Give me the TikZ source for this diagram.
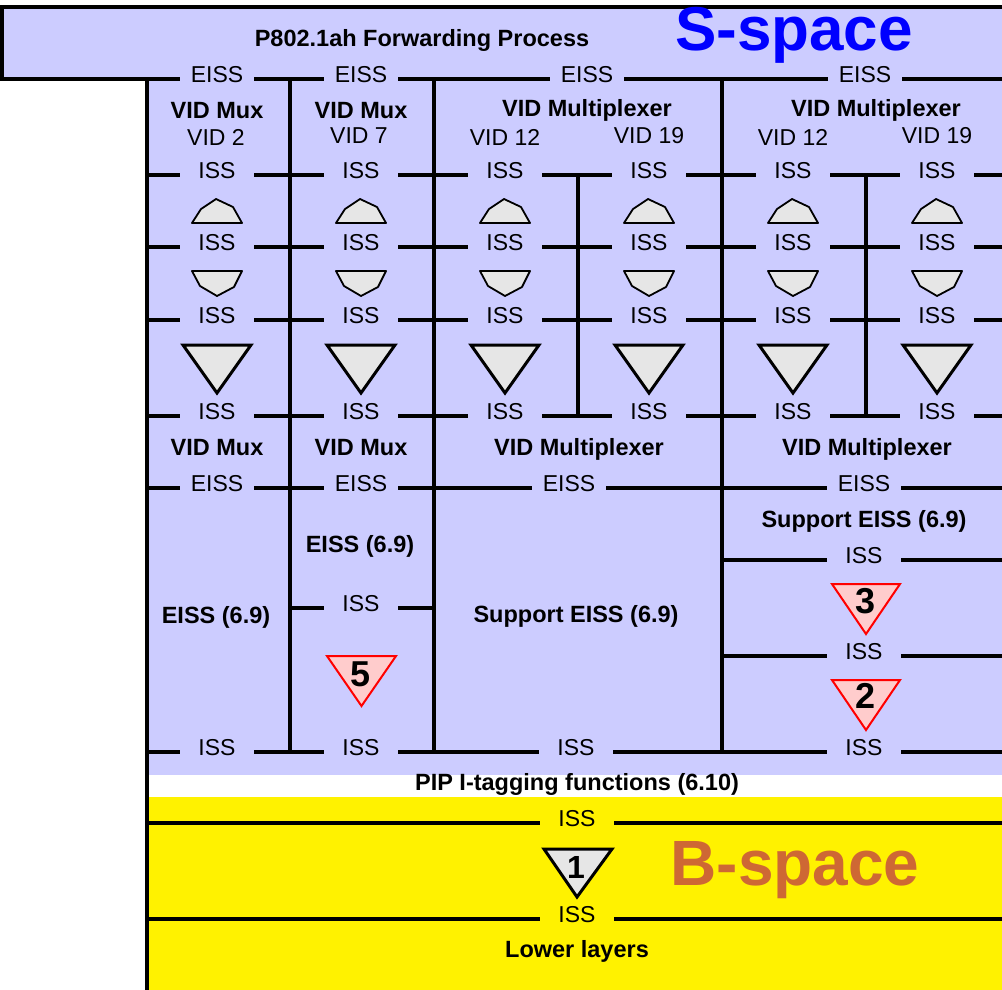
\documentclass[tikz,border=0pt]{standalone}
\usepackage{fontspec}
\setmainfont{Liberation Sans}
\definecolor{lav}{RGB}{204,204,255}
\definecolor{shade}{RGB}{230,230,230}
\definecolor{pinkish}{RGB}{255,204,204}
\definecolor{bbrown}{RGB}{206,104,52}
\begin{document}
\begin{tikzpicture}[x=1pt,y=-1pt,line width=3.2pt,
    port/.style={fill=lav,minimum width=74pt,inner xsep=0pt,inner ysep=1.5pt,font=\fontsize{23}{26}\selectfont},
    txt/.style={anchor=base,font=\fontsize{23}{26}\selectfont},
    head/.style={anchor=base,font=\fontsize{23.5}{26}\selectfont\bfseries},
    dome/.style={fill=shade,draw,line width=1.8pt,line join=round},
    tri/.style={fill=shade,draw,line width=3pt},
    redtri/.style={fill=pinkish,draw=red,line width=2pt},
    num/.style={font=\fontsize{36}{40}\selectfont\bfseries}]
    \useasboundingbox (0,0) rectangle (1002,990);
    \fill[lav] (2,7) rectangle (1002,79);
    \fill[lav] (147,79) rectangle (1002,775);
    \fill[yellow] (147,797) rectangle (1002,990);
    \draw (1002,7) -- (2,7) -- (2,79) -- (1002,79);
    \draw (147,79) -- (147,990);
    \foreach \x in {290,434,722} \draw (\x,79) -- (\x,752);
    \foreach \x in {578,866} \draw (\x,175) -- (\x,416);
    \foreach \y in {175,247,320,416,488,752,823,919} \draw (147,\y) -- (1002,\y);
    \draw (290,608) -- (434,608);
    \foreach \y in {560,656} \draw (722,\y) -- (1002,\y);
    \foreach \x in {217,361,505,649,793,937} {
        \draw[dome] (\x-25,223) -- (\x-16,209) -- (\x-1,199) -- (\x+16,207) -- (\x+25,223) -- cycle;
        \draw[dome] (\x-25,271) -- (\x-17,286) -- (\x,296) -- (\x+17,287) -- (\x+25,271) -- cycle;
        \draw[tri] (\x-34,345) -- (\x+34,345) -- (\x,393) -- cycle;
    }
    \draw[redtri] (327,656) -- (396,656) -- (361.5,706) -- cycle;
    \draw[redtri] (832,584) -- (900,584) -- (866,634) -- cycle;
    \draw[redtri] (832,680) -- (900,680) -- (866,730) -- cycle;
    \draw[tri] (544,849) -- (612,849) -- (577,897) -- cycle;
    \node[num] (n5) at (361,674) {5};
    \node[num] (n3) at (866,601) {3};
    \node[num] (n2) at (866,696) {2};
    \node[font=\fontsize{32}{34}\selectfont\bfseries] (n1) at (576,867) {1};
    \foreach \x [count=\i] in {217,361,587,865} \node[port] (eissT\i) at (\x,75) {EISS};
    \foreach \y [count=\j] in {171,243,316,412}
        \foreach \x [count=\i] in {217,361,505,649,793,937} \node[port] (iss\j\i) at (\x,\y) {ISS};
    \foreach \x [count=\i] in {217,361,569,864} \node[port] (eissB\i) at (\x,484) {EISS};
    \foreach \x [count=\i] in {217,361,576,864} \node[port] (issB\i) at (\x,748) {ISS};
    \node[port] (issM) at (361,604) {ISS};
    \node[port] (issR1) at (864,556) {ISS};
    \node[port] (issR2) at (864,652) {ISS};
    \node[port,fill=yellow] (issY1) at (577,819) {ISS};
    \node[port,fill=yellow] (issY2) at (577,915) {ISS};
    \node[head] (fwd) at (422,47) {P802.1ah Forwarding Process};
    \node[anchor=base,text=blue,font=\fontsize{62}{66}\selectfont\bfseries] (sspace) at (794,51) {S-space};
    \node[anchor=base,text=bbrown,font=\fontsize{64}{68}\selectfont\bfseries] (bspace) at (795,885) {B-space};
    \node[head] (mux1) at (217,118) {VID Mux};
    \node[head] (mux2) at (361,118) {VID Mux};
    \node[head] (mplx1) at (587,117) {VID Multiplexer};
    \node[head] (mplx2) at (876,117) {VID Multiplexer};
    \node[txt] (vid2) at (216,145) {VID 2};
    \node[txt] (vid7) at (359,143) {VID 7};
    \node[txt] (vid12a) at (505,145) {VID 12};
    \node[txt] (vid19a) at (649,143) {VID 19};
    \node[txt] (vid12b) at (793,145) {VID 12};
    \node[txt] (vid19b) at (937,143) {VID 19};
    \node[head] (muxL1) at (217,455) {VID Mux};
    \node[head] (muxL2) at (361,455) {VID Mux};
    \node[head] (mplxL1) at (579,455) {VID Multiplexer};
    \node[head] (mplxL2) at (867,455) {VID Multiplexer};
    \node[head] (e69a) at (216,623) {EISS (6.9)};
    \node[head] (e69b) at (360,552) {EISS (6.9)};
    \node[head] (sup1) at (576,622) {Support EISS (6.9)};
    \node[head] (sup2) at (864,527) {Support EISS (6.9)};
    \node[head] (pip) at (577,790) {PIP I-tagging functions (6.10)};
    \node[head] (lower) at (577,957) {Lower layers};
\end{tikzpicture}
\end{document}
